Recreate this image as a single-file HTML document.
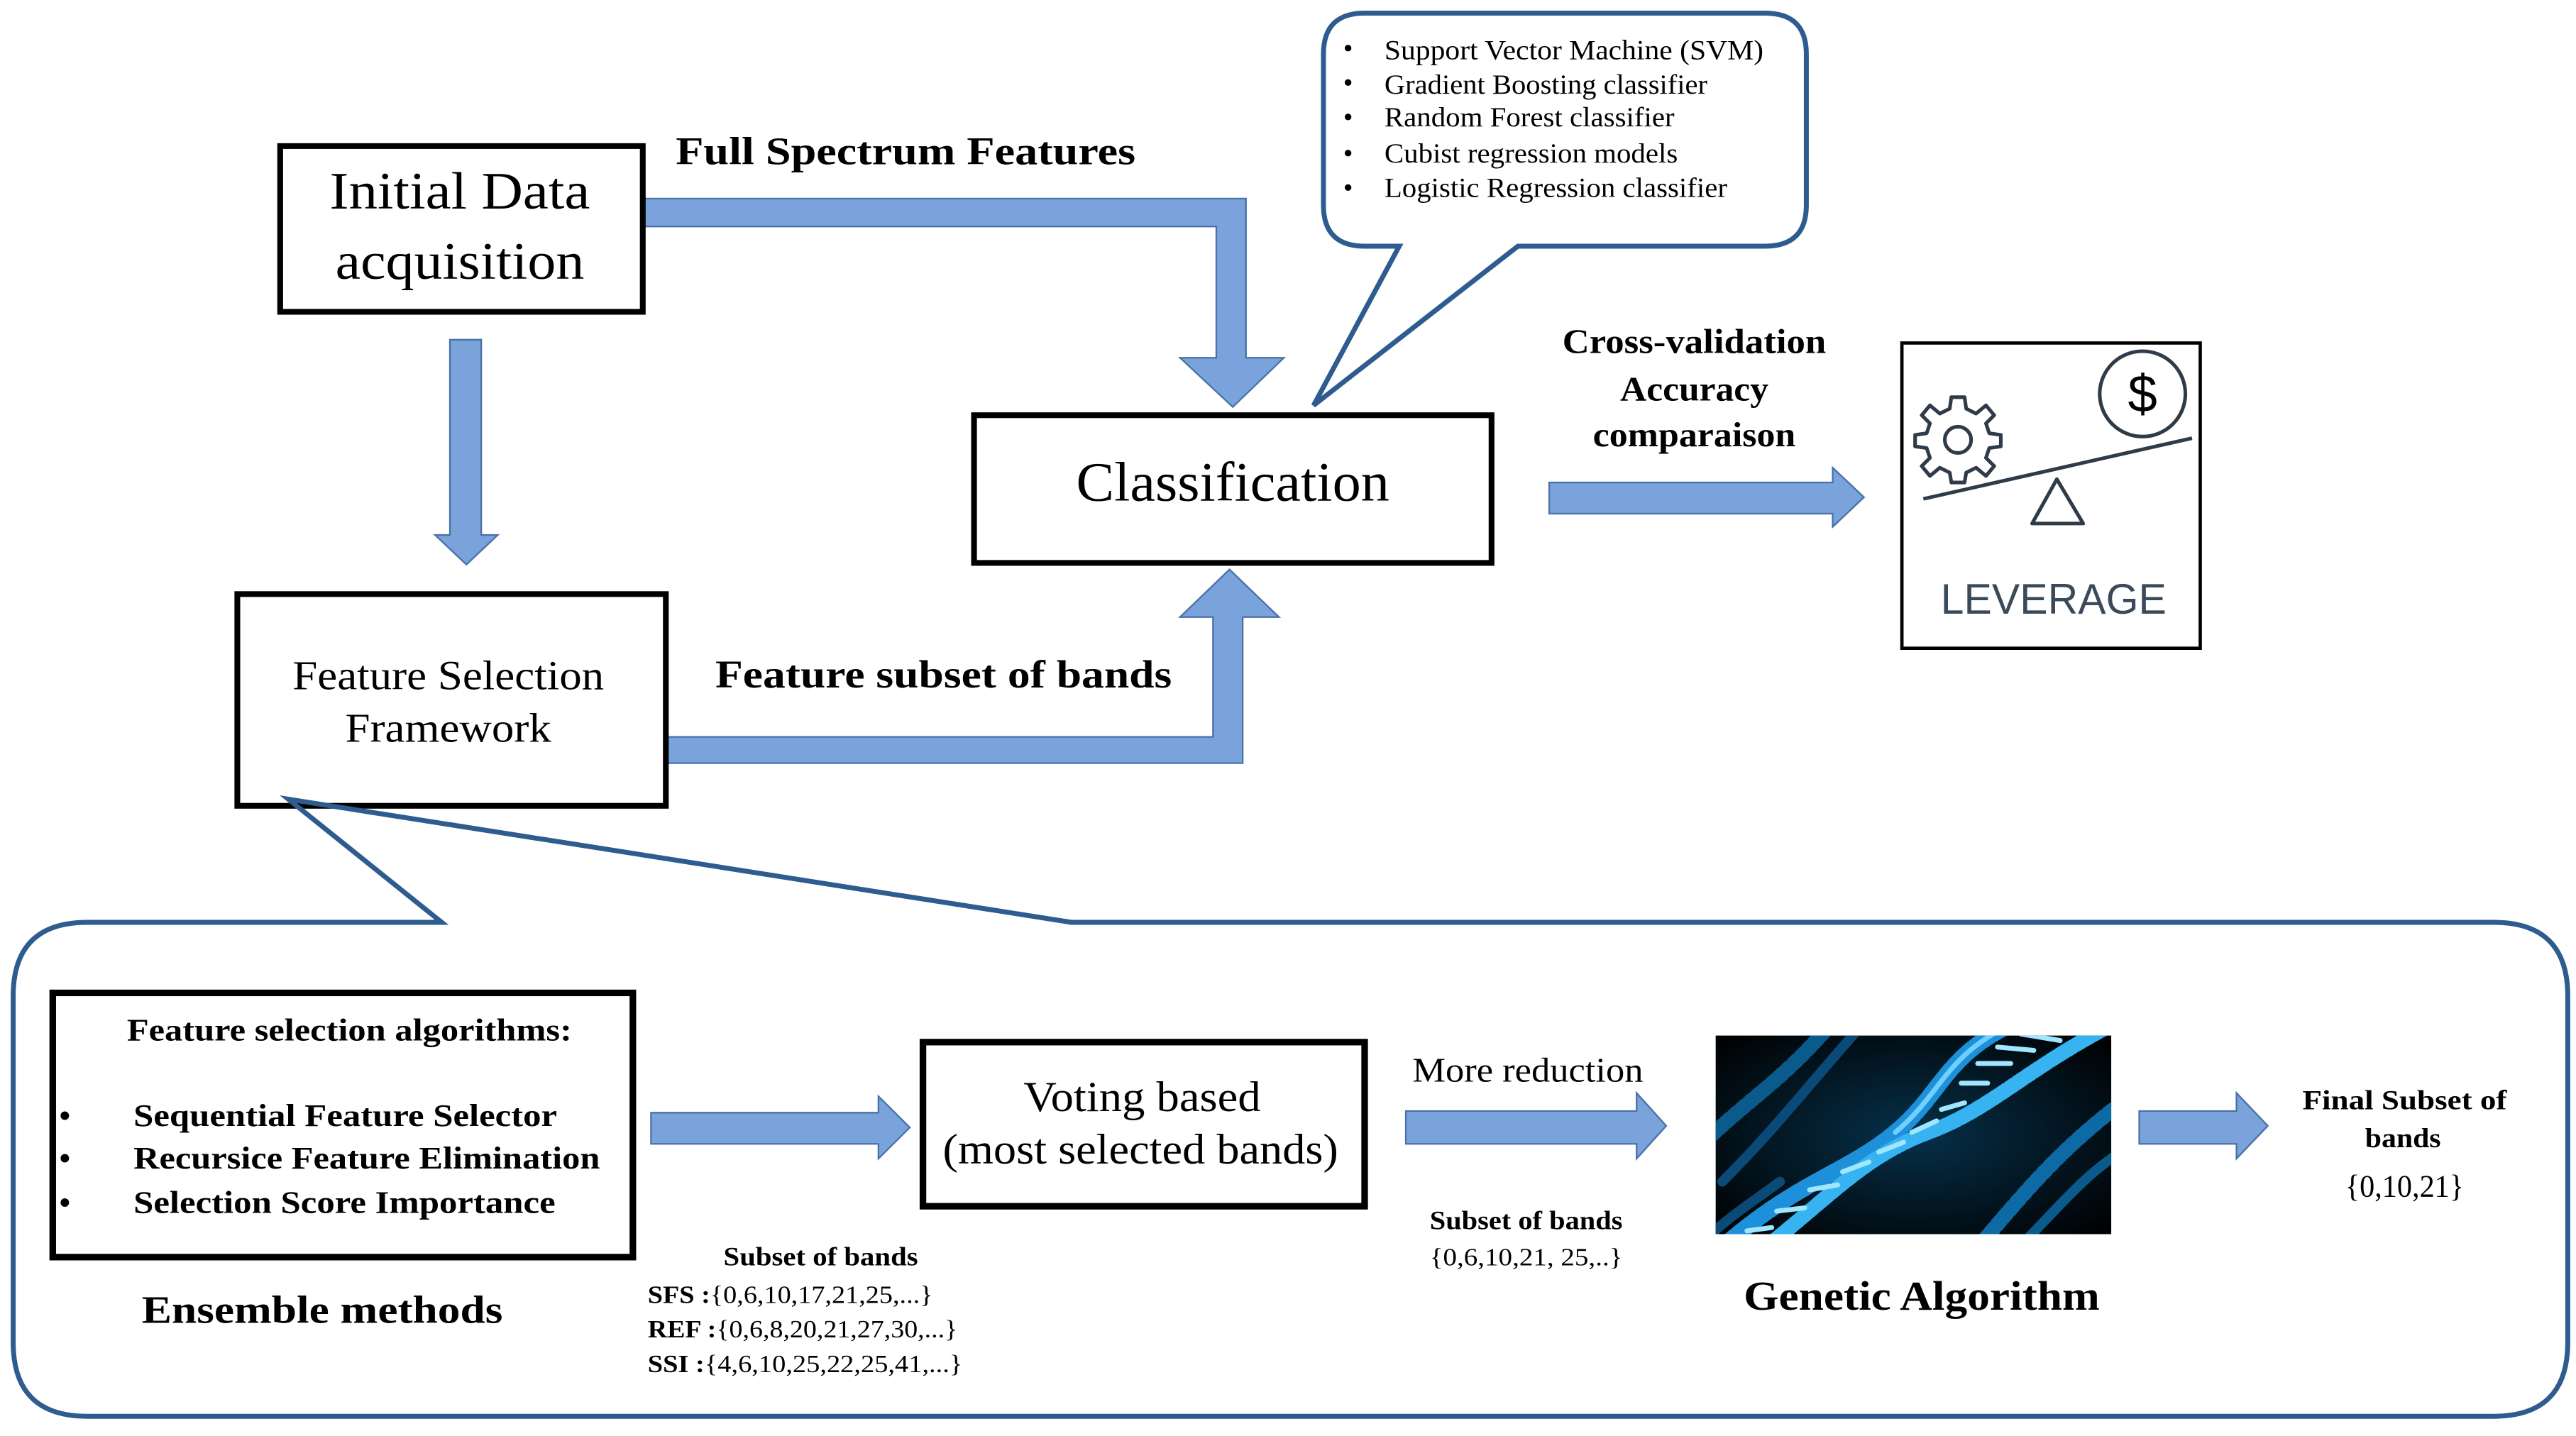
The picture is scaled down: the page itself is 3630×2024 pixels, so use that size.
<!DOCTYPE html>
<html><head><meta charset="utf-8"><style>
html,body{margin:0;padding:0;background:#fff;}
svg{display:block;}
text{font-family:"Liberation Serif",serif;fill:#000;}
.b{font-weight:bold;}
</style></head><body>
<svg width="3630" height="2024" viewBox="0 0 1563 875" preserveAspectRatio="none" xmlns="http://www.w3.org/2000/svg">
<defs>
<radialGradient id="g1" cx="0.5" cy="0.5" r="0.7"><stop offset="0" stop-color="#06304a"/><stop offset="1" stop-color="#000"/></radialGradient>
<clipPath id="dc"><rect x="1041" y="631" width="240" height="121"/></clipPath>
</defs>
<rect width="1563" height="875" fill="#fff"/>
<g fill="#7BA3DB" stroke="#4A72A8" stroke-width="1">
<path d="M391,121 L756,121 L756,218 L779,218 L748,248 L716,218 L738,218 L738,138 L391,138 Z"/>
<path d="M273,207 L292,207 L292,326 L302,326 L283,344 L264,326 L273,326 Z"/>
<path d="M405,449 L736,449 L736,376 L716,376 L746,347 L776,376 L754,376 L754,465 L405,465 Z"/>
<path d="M940,294 L1112,294 L1112,285 L1131,303 L1112,321 L1112,313 L940,313 Z"/>
<path d="M395,678 L533,678 L533,668 L552,687 L533,706 L533,697 L395,697 Z"/>
<path d="M853,677 L993,677 L993,666 L1011,686 L993,706 L993,697 L853,697 Z"/>
<path d="M1298,677 L1357,677 L1357,666 L1376,686 L1357,706 L1357,697 L1298,697 Z"/>
</g>
<g fill="none" stroke="#000">
<rect x="170" y="89" width="220" height="101" stroke-width="3.5"/>
<rect x="144" y="362" width="260" height="129" stroke-width="3.5"/>
<rect x="591" y="253" width="314" height="90" stroke-width="3.5"/>
<rect x="1154" y="209" width="181" height="186" stroke-width="2"/>
<rect x="32" y="605" width="352" height="161" stroke-width="4"/>
<rect x="560" y="635" width="268" height="100" stroke-width="4"/>
</g>
<path d="M849,150 L797,247 L921,150 L1071,150 Q1096,150 1096,125 L1096,33 Q1096,8 1071,8 L828,8 Q803,8 803,33 L803,125 Q803,150 828,150 Z" fill="#fff" stroke="#2E5C8E" stroke-width="3" stroke-linejoin="miter"/>
<path d="M268,562 L175,487 L650,562 L1513,562 Q1558,562 1558,607 L1558,818 Q1558,863 1513,863 L53,863 Q8,863 8,818 L8,607 Q8,562 53,562 Z" fill="none" stroke="#2E5C8E" stroke-width="3"/>
<text x="279" y="127" font-size="32" text-anchor="middle" textLength="158" lengthAdjust="spacingAndGlyphs">Initial Data</text>
<text x="279" y="170" font-size="32" text-anchor="middle" textLength="151" lengthAdjust="spacingAndGlyphs">acquisition</text>
<text x="410" y="100" font-size="24" class="b" textLength="279" lengthAdjust="spacingAndGlyphs">Full Spectrum Features</text>
<text x="272" y="420" font-size="25" text-anchor="middle" textLength="189" lengthAdjust="spacingAndGlyphs">Feature Selection</text>
<text x="272" y="452" font-size="25" text-anchor="middle" textLength="125" lengthAdjust="spacingAndGlyphs">Framework</text>
<text x="434" y="419" font-size="24" class="b" textLength="277" lengthAdjust="spacingAndGlyphs">Feature subset of bands</text>
<text x="748" y="305" font-size="34" text-anchor="middle" textLength="190" lengthAdjust="spacingAndGlyphs">Classification</text>
<g font-size="17">
<text x="815" y="35">•</text><text x="840" y="36" textLength="230" lengthAdjust="spacingAndGlyphs">Support Vector Machine (SVM)</text>
<text x="815" y="56">•</text><text x="840" y="57" textLength="196" lengthAdjust="spacingAndGlyphs">Gradient Boosting classifier</text>
<text x="815" y="77">•</text><text x="840" y="77" textLength="176" lengthAdjust="spacingAndGlyphs">Random Forest classifier</text>
<text x="815" y="99">•</text><text x="840" y="99" textLength="178" lengthAdjust="spacingAndGlyphs">Cubist regression  models</text>
<text x="815" y="120">•</text><text x="840" y="120" textLength="208" lengthAdjust="spacingAndGlyphs">Logistic Regression  classifier</text>
</g>
<g font-size="21" class="b" text-anchor="middle">
<text x="1028" y="215" textLength="160" lengthAdjust="spacingAndGlyphs">Cross-validation</text>
<text x="1028" y="244" textLength="90" lengthAdjust="spacingAndGlyphs">Accuracy</text>
<text x="1028" y="272" textLength="123" lengthAdjust="spacingAndGlyphs">comparaison</text>
</g>
<g fill="none" stroke="#2f3b48" stroke-width="2.2">
<circle cx="1300" cy="240" r="26"/>
<line x1="1167" y1="304" x2="1330" y2="267"/>
<path d="M1248,292 L1233,319 L1264,319 Z" stroke-linejoin="round"/>
<circle cx="1188" cy="268" r="8"/>
<path d="M1184,242 L1192,242 L1193,249 L1199,252 L1205,247 L1210,253 L1205,258 L1207,264 L1214,265 L1214,272 L1207,273 L1205,279 L1210,284 L1205,290 L1199,285 L1193,288 L1192,294 L1184,294 L1183,288 L1177,285 L1171,290 L1166,284 L1171,279 L1169,273 L1162,272 L1162,265 L1169,264 L1171,258 L1166,253 L1171,247 L1177,252 L1183,249 Z" stroke-linejoin="round"/>
</g>
<text x="1300" y="251" font-size="32" text-anchor="middle" style="font-family:'Liberation Sans',sans-serif" fill="#2f3b48">$</text>
<text x="1246" y="374" font-size="26" text-anchor="middle" style="font-family:'Liberation Sans',sans-serif;fill:#3a4a5a" textLength="137" lengthAdjust="spacingAndGlyphs">LEVERAGE</text>
<text x="212" y="634" font-size="19" class="b" text-anchor="middle" textLength="270" lengthAdjust="spacingAndGlyphs">Feature selection algorithms:</text>
<g font-size="19" class="b">
<text x="36" y="686">•</text><text x="81" y="686" textLength="257" lengthAdjust="spacingAndGlyphs">Sequential Feature Selector</text>
<text x="36" y="712">•</text><text x="81" y="712" textLength="283" lengthAdjust="spacingAndGlyphs">Recursice Feature Elimination</text>
<text x="36" y="739">•</text><text x="81" y="739" textLength="256" lengthAdjust="spacingAndGlyphs">Selection Score Importance</text>
</g>
<text x="86" y="806" font-size="24" class="b" textLength="219" lengthAdjust="spacingAndGlyphs">Ensemble methods</text>
<text x="693" y="677" font-size="26" text-anchor="middle" textLength="144" lengthAdjust="spacingAndGlyphs">Voting based</text>
<text x="692" y="709" font-size="26" text-anchor="middle" textLength="240" lengthAdjust="spacingAndGlyphs">(most selected bands)</text>
<text x="498" y="771" font-size="16" class="b" text-anchor="middle" textLength="118" lengthAdjust="spacingAndGlyphs">Subset of bands</text>
<g font-size="15">
<text x="393" y="794" textLength="173" lengthAdjust="spacingAndGlyphs"><tspan font-weight="bold">SFS :</tspan>{0,6,10,17,21,25,...}</text>
<text x="393" y="815" textLength="188" lengthAdjust="spacingAndGlyphs"><tspan font-weight="bold">REF :</tspan>{0,6,8,20,21,27,30,...}</text>
<text x="393" y="836" textLength="191" lengthAdjust="spacingAndGlyphs"><tspan font-weight="bold">SSI :</tspan>{4,6,10,25,22,25,41,...}</text>
</g>
<text x="857" y="659" font-size="21" textLength="140" lengthAdjust="spacingAndGlyphs">More reduction</text>
<text x="926" y="749" font-size="16" class="b" text-anchor="middle" textLength="117" lengthAdjust="spacingAndGlyphs">Subset of bands</text>
<text x="926" y="771" font-size="15" text-anchor="middle" textLength="117" lengthAdjust="spacingAndGlyphs">{0,6,10,21, 25,..}</text>
<rect x="1041" y="631" width="240" height="121" fill="url(#g1)"/>
<g clip-path="url(#dc)" fill="none" stroke-linecap="round">
<!-- background helices -->
<path d="M1030,700 C1060,670 1080,660 1110,625" stroke="#0B5A8C" stroke-width="9" stroke-dasharray="3 3"/>
<path d="M1045,720 C1075,690 1090,670 1125,630" stroke="#0A4A78" stroke-width="6"/>
<path d="M1200,760 C1230,725 1250,700 1290,670" stroke="#0E6AA5" stroke-width="9" stroke-dasharray="3 3"/>
<path d="M1225,760 C1250,735 1265,715 1290,700" stroke="#0B5A8C" stroke-width="6"/>
<path d="M1030,760 C1050,740 1060,735 1080,720" stroke="#0A4A78" stroke-width="6"/>
<!-- main helix -->
<path d="M1045,760 C1090,720 1120,715 1150,690 C1180,665 1180,640 1230,620" stroke="#1E90DA" stroke-width="10" stroke-dasharray="4 2"/>
<path d="M1065,765 C1110,730 1130,705 1170,690 C1210,675 1230,650 1290,620" stroke="#36B3F0" stroke-width="9" stroke-dasharray="4 2"/>
<path d="M1060,750 L1075,748 M1078,738 L1095,736 M1098,725 L1115,722 M1118,714 L1134,708 M1140,702 L1155,696 M1160,690 L1175,683 M1178,676 L1192,672 M1190,660 L1206,660 M1200,648 L1220,648 M1212,638 L1234,640 M1226,630 L1250,634" stroke="#9FE6FF" stroke-width="3"/>
<path d="M1150,690 C1180,665 1180,640 1230,620" stroke="#6FD0FF" stroke-width="3"/>
</g>
<text x="1166" y="798" font-size="25" class="b" text-anchor="middle" textLength="216" lengthAdjust="spacingAndGlyphs">Genetic Algorithm</text>
<g font-size="17" class="b" text-anchor="middle">
<text x="1459" y="676" textLength="124" lengthAdjust="spacingAndGlyphs">Final  Subset of</text>
<text x="1458" y="699" textLength="46" lengthAdjust="spacingAndGlyphs">bands</text>
</g>
<text x="1459" y="729" font-size="19" text-anchor="middle" textLength="72" lengthAdjust="spacingAndGlyphs">{0,10,21}</text>
</svg>
</body></html>
